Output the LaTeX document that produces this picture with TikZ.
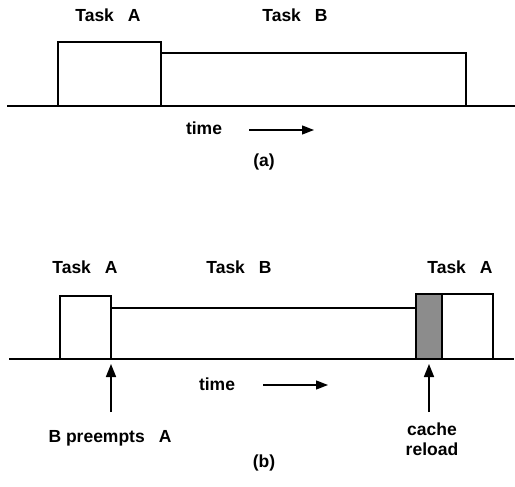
\documentclass[tikz,border=0pt]{standalone}
\usepackage{fontspec}
\setmainfont{Liberation Sans}
\usetikzlibrary{arrows.meta}
\begin{document}
\begin{tikzpicture}[x=1pt,y=-1pt,
  lbl/.style={anchor=base,inner sep=0pt,font=\fontsize{17.5}{20}\selectfont\bfseries},
  ln/.style={line width=1.4pt},
  tarrow/.style={line width=1.3pt,-{Triangle[length=12pt,width=9pt]}},
  varrow/.style={line width=1.7pt,-{Triangle[length=13pt,width=10pt]}},
  reload/.style={draw,line width=1.4pt,fill=black!45}]
\useasboundingbox (0,0) rectangle (515,487);
% ---------- (a) ----------
\draw[ln] (7,106) -- (515,106);
\draw[ln] (58,106) |- (161,42) -- (161,106);
\draw[ln] (161,53) -| (466,106);
\node[lbl] (taA) at (108,22) {Task\hspace{0.8em}A};
\node[lbl] (taB) at (295,22) {Task\hspace{0.8em}B};
\node[lbl] (timeA) at (204,135) {time};
\coordinate (tas) at (249,130);
\coordinate (tae) at (314,130);
\draw[tarrow] (tas) -- (tae);
\node[lbl] (capA) at (264,167) {(a)};
% ---------- (b) ----------
\draw[ln] (9,359) -- (514,359);
\draw[ln] (60,359) |- (111,296) -- (111,359);
\draw[ln] (111,308) -- (416,308);
\draw[reload] (416,359) rectangle (442,294);
\draw[ln] (442,294) -| (493,359);
\node[lbl] (tbA) at (85,273) {Task\hspace{0.8em}A};
\node[lbl] (tbB) at (239,273) {Task\hspace{0.8em}B};
\node[lbl] (tbA2) at (460,273) {Task\hspace{0.8em}A};
\node[lbl] (timeB) at (217,390) {time};
\coordinate (tbs) at (263,385);
\coordinate (tbe) at (328,385);
\draw[tarrow] (tbs) -- (tbe);
\coordinate (p1) at (111,412);
\coordinate (p1t) at (111,364);
\draw[varrow] (p1) -- (p1t);
\coordinate (p2) at (429,412);
\coordinate (p2t) at (429,364);
\draw[varrow] (p2) -- (p2t);
\node[lbl] (pre) at (110,442) {B preempts\hspace{0.8em}A};
\node[lbl] (cache) at (432,435) {cache};
\node[lbl] (rel) at (432,455) {reload};
\node[lbl] (capB) at (264,467) {(b)};
\end{tikzpicture}
\end{document}
